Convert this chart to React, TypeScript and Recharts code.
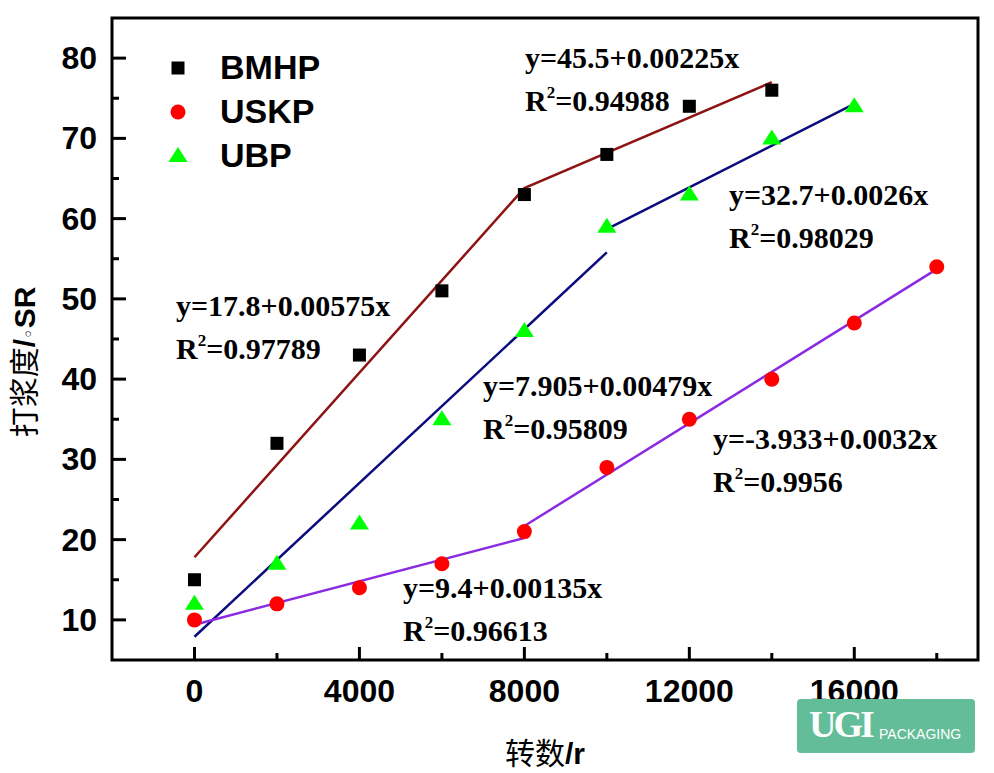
import React from "react";
import { ScatterChart, Scatter, XAxis, YAxis, ReferenceArea } from "recharts";

// measured points (rev count vs beating degree)
const revs = [0, 2000, 4000, 6000, 8000, 10000, 12000, 14000, 16000, 18000];
const bmhpVals = [15, 32, 43, 51, 63, 68, 74, 76];
const uskpVals = [10, 12, 14, 17, 21, 29, 35, 40, 47, 54];
const ubpVals = [12, 17, 22, 35, 46, 59, 63, 70, 74];

// fitted lines, end points
const bmhpFitX = [0, 8000, 14000];
const bmhpFitY = [17.8, 63.8, 77];
const ubpFit1X = [0, 10000];
const ubpFit1Y = [7.9, 55.8];
const ubpFit2X = [10000, 16000];
const ubpFit2Y = [58.7, 74.3];
const uskpFit1X = [0, 8000];
const uskpFit1Y = [9.4, 20.2];
const uskpFit2X = [8000, 18000];
const uskpFit2Y = [21.7, 53.7];

const xTicks = [0, 2000, 4000, 6000, 8000, 10000, 12000, 14000, 16000, 18000];
const yTicks = [10, 15, 20, 25, 30, 35, 40, 45, 50, 55, 60, 65, 70, 75, 80];

const legendNames = ["BMHP", "USKP", "UBP"];

const equations = [
  { eq: "y=45.5+0.00225x", r2: "=0.94988" },
  { eq: "y=32.7+0.0026x", r2: "=0.98029" },
  { eq: "y=17.8+0.00575x", r2: "=0.97789" },
  { eq: "y=7.905+0.00479x", r2: "=0.95809" },
  { eq: "y=-3.933+0.0032x", r2: "=0.9956" },
  { eq: "y=9.4+0.00135x", r2: "=0.96613" },
];
// where each equation sits (left x, baseline y)
const eqPos = [
  [525, 68],
  [729, 205],
  [176, 316],
  [483, 396],
  [713, 449],
  [403, 598],
];

const toPts = (xs: number[], ys: number[]) => ys.map((y, i) => ({ x: xs[i], y }));

const W = 994;
const H = 773;
const PLOT_LEFT = 112;
const PLOT_BOTTOM = 660;
const SANS = "'Liberation Sans', Arial, sans-serif";
const SERIF = "'Liberation Serif', 'Times New Roman', serif";
const CJK = "'Liberation Sans', 'Noto Sans CJK SC', sans-serif";

const XTick = (props: any) => {
  const { x, payload } = props;
  const major = payload.value % 4000 === 0;
  return (
    <g>
      <line x1={x} x2={x} y1={PLOT_BOTTOM} y2={PLOT_BOTTOM - (major ? 13 : 7)} stroke="#000" strokeWidth={3} />
      {major && (
        <text x={x} y={PLOT_BOTTOM + 42} textAnchor="middle" fontFamily={SANS} fontWeight="bold" fontSize={32} fill="#000">
          {payload.value}
        </text>
      )}
    </g>
  );
};

const YTick = (props: any) => {
  const { y, payload } = props;
  const major = payload.value % 10 === 0;
  return (
    <g>
      <line x1={PLOT_LEFT} x2={PLOT_LEFT + (major ? 14 : 7)} y1={y} y2={y} stroke="#000" strokeWidth={3} />
      {major && (
        <text x={PLOT_LEFT - 15} y={y + 11} textAnchor="end" fontFamily={SANS} fontWeight="bold" fontSize={32} fill="#000">
          {payload.value}
        </text>
      )}
    </g>
  );
};

const Square = (p: any) => <rect x={p.cx - 6.5} y={p.cy - 6.5} width={13} height={13} fill="#000" />;
const Dot = (p: any) => <circle cx={p.cx} cy={p.cy} r={7.5} fill="#ff0000" />;
const Tri = (p: any) => (
  <polygon points={`${p.cx},${p.cy - 9} ${p.cx - 9.5},${p.cy + 6} ${p.cx + 9.5},${p.cy + 6}`} fill="#00ff00" />
);
const NoMark = () => <g />;

const legendIcons = [
  (cx: number, cy: number) => <rect x={cx - 6.5} y={cy - 6.5} width={13} height={13} fill="#000" />,
  (cx: number, cy: number) => <circle cx={cx} cy={cy} r={7.5} fill="#ff0000" />,
  (cx: number, cy: number) => (
    <polygon points={`${cx},${cy - 9} ${cx - 9.5},${cy + 6} ${cx + 9.5},${cy + 6}`} fill="#00ff00" />
  ),
];

export default function App() {
  return (
    <div style={{ position: "absolute", left: 0, top: 0, width: W, height: H, background: "#fff" }}>
      <ScatterChart width={W} height={H} margin={{ top: 18, right: 16, bottom: 63, left: 52 }}>
        <XAxis
          type="number"
          dataKey="x"
          domain={[-2000, 19000]}
          ticks={xTicks}
          interval={0}
          axisLine={false}
          tickLine={false}
          tickSize={0}
          height={50}
          tick={<XTick />}
        />
        <YAxis
          type="number"
          dataKey="y"
          domain={[5, 85]}
          ticks={yTicks}
          interval={0}
          axisLine={false}
          tickLine={false}
          tickSize={0}
          width={60}
          tick={<YTick />}
        />
        <Scatter data={toPts(bmhpFitX, bmhpFitY)} line={{ stroke: "#8e1414", strokeWidth: 2.5 }} shape={NoMark} isAnimationActive={false} />
        <Scatter data={toPts(ubpFit1X, ubpFit1Y)} line={{ stroke: "#0b0b7e", strokeWidth: 2.5 }} shape={NoMark} isAnimationActive={false} />
        <Scatter data={toPts(ubpFit2X, ubpFit2Y)} line={{ stroke: "#0b0b7e", strokeWidth: 2.5 }} shape={NoMark} isAnimationActive={false} />
        <Scatter data={toPts(uskpFit1X, uskpFit1Y)} line={{ stroke: "#8a2be2", strokeWidth: 2.5 }} shape={NoMark} isAnimationActive={false} />
        <Scatter data={toPts(uskpFit2X, uskpFit2Y)} line={{ stroke: "#8a2be2", strokeWidth: 2.5 }} shape={NoMark} isAnimationActive={false} />
        <Scatter name="BMHP" data={toPts(revs, bmhpVals)} shape={Square} isAnimationActive={false} />
        <Scatter name="USKP" data={toPts(revs, uskpVals)} shape={Dot} isAnimationActive={false} />
        <Scatter name="UBP" data={toPts(revs, ubpVals)} shape={Tri} isAnimationActive={false} />
        <ReferenceArea x1={-2000} x2={19000} y1={5} y2={85} fill="none" stroke="#000" strokeWidth={3} ifOverflow="visible" />
      </ScatterChart>

      <svg width={W} height={H} style={{ position: "absolute", left: 0, top: 0, pointerEvents: "none" }}>
        {legendNames.map((name, i) => (
          <g key={name}>
            {legendIcons[i](178, 68 + i * 44)}
            <text x={220} y={79 + i * 44} fontFamily={SANS} fontWeight="bold" fontSize={34} fill="#000">
              {name}
            </text>
          </g>
        ))}
        {equations.map((e, i) => (
          <g key={e.eq} fontFamily={SERIF} fontWeight="bold" fontSize={30} fill="#000">
            <text x={eqPos[i][0]} y={eqPos[i][1]}>{e.eq}</text>
            <text x={eqPos[i][0]} y={eqPos[i][1] + 43}>
              R<tspan fontSize={17} dy={-13}>2</tspan>
              <tspan dy={13}>{e.r2}</tspan>
            </text>
          </g>
        ))}
        <text x={545} y={764} textAnchor="middle" fontFamily={CJK} fontSize={30} fill="#000">
          转数<tspan fontWeight="bold">/r</tspan>
        </text>
        <text
          transform="translate(35,362) rotate(-90)"
          textAnchor="middle"
          fontFamily={CJK}
          fontSize={30}
          fill="#000"
        >
          打浆度<tspan fontWeight="bold">/</tspan>
          <tspan fontFamily="'DejaVu Sans', sans-serif" fontSize={18}>◦</tspan>
          <tspan fontWeight="bold">SR</tspan>
        </text>
      </svg>

      <div
        style={{
          position: "absolute",
          left: 797,
          top: 699,
          width: 178,
          height: 54,
          background: "#63bd98",
          borderRadius: 4,
          color: "#fff",
        }}
      >
        <span
          style={{
            position: "absolute",
            left: 12,
            top: 6,
            fontFamily: SERIF,
            fontWeight: "bold",
            fontSize: 38,
            lineHeight: "38px",
            letterSpacing: -3,
          }}
        >
          UGI
        </span>
        <span style={{ position: "absolute", left: 82, top: 28, fontFamily: SANS, fontSize: 14, lineHeight: "14px" }}>
          PACKAGING
        </span>
      </div>
    </div>
  );
}
